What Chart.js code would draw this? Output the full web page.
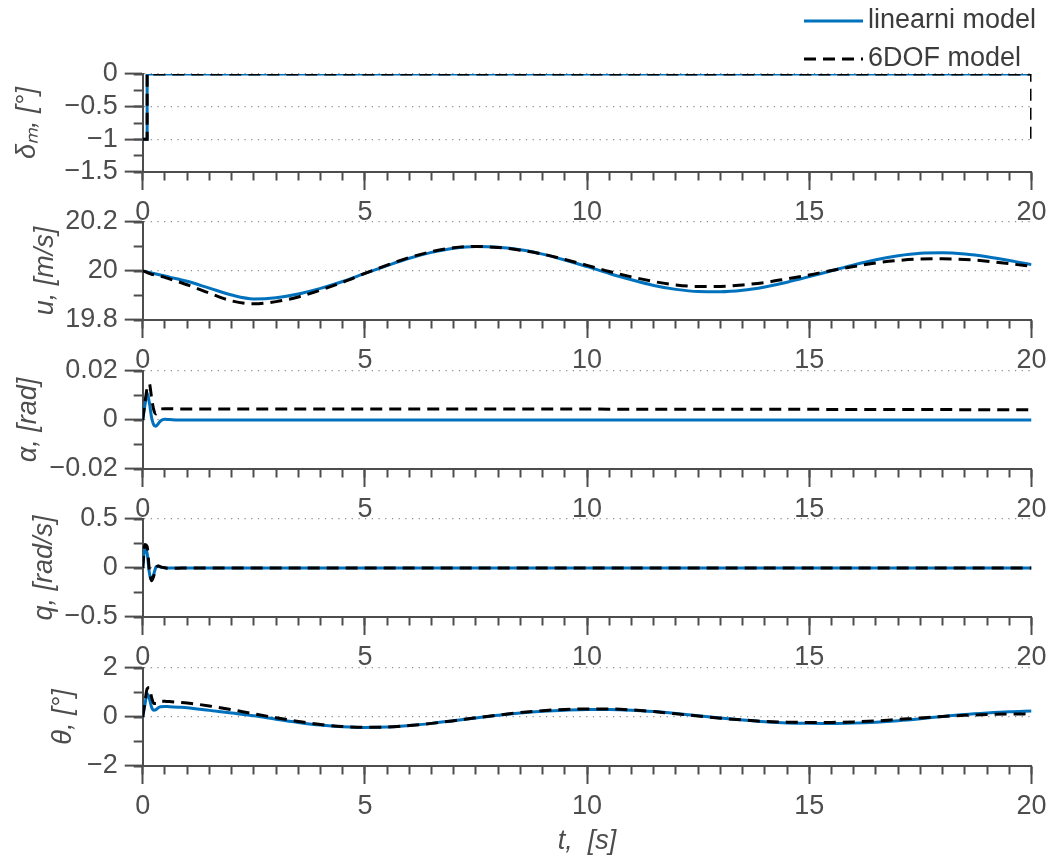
<!DOCTYPE html>
<html lang="en">
<head>
  <meta charset="utf-8">
  <title>Odziv modela</title>
  <style>
    body { margin: 0; background: #fff; }
    #wrap { position: relative; width: 1054px; height: 856px; overflow: hidden; }
    #wrap canvas { position: absolute; left: 0; }
  </style>
</head>

<body>
  <div id="wrap">
    <canvas id="c1"></canvas>
    <canvas id="c2"></canvas>
    <canvas id="c3"></canvas>
    <canvas id="c4"></canvas>
    <canvas id="c5"></canvas>
  </div>

  <script src="https://cdn.jsdelivr.net/npm/chart.js@4.4.0/dist/chart.umd.min.js"></script>
  <script>
    // time axis [s]
    var time = [0, 0.05, 0.1, 0.15, 0.2, 0.25, 0.3, 0.35, 0.4, 0.5, 0.6, 0.8, 1,
      1.5, 2, 2.5, 3, 3.5, 4, 4.5, 5, 5.5, 6, 6.5, 7, 7.5, 8, 8.5, 9, 9.5, 10,
      10.5, 11, 11.5, 12, 12.5, 13, 13.5, 14, 14.5, 15, 15.5, 16, 16.5, 17, 17.5, 18, 18.5, 19, 19.5, 20];

    // elevator step
    var deltaTimeLin = [0, 0.1, 0.1, 20];
    var deltaLin = [-1, -1, 0, 0];
    var deltaTimeDof = [0, 0.1, 0.1, 20, 20];
    var deltaDof = [-1, -1, 0, 0, -1];

    var uLin = [20.000, 19.998, 19.996, 19.994, 19.992, 19.990, 19.988, 19.986, 19.984, 19.980, 19.975, 19.967, 19.958,
      19.930, 19.902, 19.886, 19.891, 19.906, 19.929, 19.957, 19.990, 20.022, 20.052, 20.076, 20.093, 20.100, 20.097, 20.087, 20.069, 20.045, 20.018,
      19.990, 19.964, 19.941, 19.925, 19.916, 19.915, 19.921, 19.935, 19.954, 19.977, 20.001, 20.025, 20.046, 20.062, 20.072, 20.074, 20.069, 20.058, 20.043, 20.026];
    var uDof = [20.000, 19.998, 19.994, 19.990, 19.987, 19.985, 19.983, 19.981, 19.979, 19.974, 19.968, 19.956, 19.944,
      19.910, 19.878, 19.866, 19.875, 19.894, 19.922, 19.954, 19.990, 20.024, 20.055, 20.079, 20.095, 20.100, 20.096, 20.085, 20.069, 20.047, 20.023,
      19.998, 19.976, 19.957, 19.943, 19.937, 19.937, 19.943, 19.953, 19.968, 19.984, 20.002, 20.018, 20.033, 20.043, 20.049, 20.050, 20.047, 20.040, 20.030, 20.019];

    var alphaLin = [0, 0.006, 0.011, 0.007, 0.001, -0.002, -0.0025, -0.0015, -0.0004, 0.0003, 0.0002, 0, 0,
      0, 0, 0, 0, 0, 0, 0, 0, 0, 0, 0, 0, 0, 0, 0, 0, 0, 0,
      0, 0, 0, 0, 0, 0, 0, 0, 0, 0, 0, 0, 0, 0, 0, 0, 0, 0, 0, 0];
    var alphaDof = [0, 0.007, 0.013, 0.0148, 0.009, 0.004, 0.0025, 0.0035, 0.0045, 0.0046, 0.0046, 0.0045, 0.0045,
      0.0045, 0.0045, 0.0045, 0.0045, 0.0045, 0.0045, 0.0045, 0.0045, 0.0045, 0.0045, 0.0045, 0.0045, 0.0045, 0.0045, 0.0045, 0.0045, 0.0045, 0.0045,
      0.0044, 0.0044, 0.0044, 0.0044, 0.0044, 0.0044, 0.0044, 0.0044, 0.0044, 0.0044, 0.0043, 0.0043, 0.0043, 0.0043, 0.0043, 0.0043, 0.0042, 0.0042, 0.0042, 0.0042];

    var qLin = [0, 0.2, 0.15, -0.05, -0.12, -0.06, 0.01, 0.02, 0.01, 0.002, 0, 0, 0,
      0, 0, 0, 0, 0, 0, 0, 0, 0, 0, 0, 0, 0, 0, 0, 0, 0, 0,
      0, 0, 0, 0, 0, 0, 0, 0, 0, 0, 0, 0, 0, 0, 0, 0, 0, 0, 0, 0];
    var qDof = [0, 0.24, 0.22, -0.02, -0.13, -0.08, 0, 0.02, 0.012, 0.002, -0.004, -0.002, 0,
      0, 0, 0, 0, 0, 0, 0, 0, 0, 0, 0, 0, 0, 0, 0, 0, 0, 0,
      0, 0, 0, 0, 0, 0, 0, 0, 0, 0, 0, 0, 0, 0, 0, 0, 0, 0, 0, 0];

    var thetaLin = [0, 0.5, 0.95, 0.75, 0.4, 0.28, 0.3, 0.38, 0.42, 0.43, 0.42, 0.40, 0.38,
      0.27, 0.16, 0.05, -0.09, -0.22, -0.33, -0.40, -0.43, -0.41, -0.35, -0.26, -0.15, -0.04, 0.07, 0.16, 0.23, 0.28, 0.31,
      0.31, 0.28, 0.22, 0.14, 0.05, -0.04, -0.12, -0.19, -0.24, -0.26, -0.27, -0.25, -0.21, -0.15, -0.07, 0.02, 0.10, 0.16, 0.21, 0.24];
    var thetaDof = [0, 0.6, 1.15, 1.2, 0.8, 0.55, 0.55, 0.62, 0.65, 0.64, 0.63, 0.60, 0.57,
      0.45, 0.30, 0.13, -0.03, -0.18, -0.31, -0.39, -0.42, -0.41, -0.35, -0.26, -0.15, -0.03, 0.08, 0.18, 0.26, 0.31, 0.33,
      0.33, 0.29, 0.22, 0.13, 0.04, -0.05, -0.12, -0.18, -0.21, -0.22, -0.22, -0.20, -0.16, -0.10, -0.04, 0.02, 0.07, 0.10, 0.12, 0.13];

    var seriesNames = ['linearni model', '6DOF model'];
    var yLabels = ['\u03b4\u2098, [\u00b0]', 'u, [m/s]', '\u03b1, [rad]', 'q, [rad/s]', '\u03b8, [\u00b0]'];
    var xLabel = 't,  [s]';

    var fontFamily = "'Liberation Sans', Arial, sans-serif";
    var textColor = '#4d4d4d';
    var axisColor = '#4d4d4d';
    var blue = '#0072bd';
    var plotLeft = 142.7, plotRight = 1031.5, plotH = 98.2;

    Chart.defaults.font.family = fontFamily;
    Chart.defaults.font.size = 27;
    Chart.defaults.color = textColor;
    Chart.defaults.animation = false;

    function pts(xs, ys) {
      return xs.map(function(x, i) { return {x: x, y: ys[i]}; });
    }

    function fmt(v) {
      return String(Math.round(v * 1000) / 1000).replace('-', '\u2212');
    }

    // legend drawn in the top right corner, stacked like the original
    var cornerLegend = {
      id: 'cornerLegend',
      afterDraw: function(chart) {
        var ctx = chart.ctx;
        ctx.save();
        ctx.font = '27px ' + fontFamily;
        ctx.textBaseline = 'middle';
        chart.data.datasets.forEach(function(ds, i) {
          var y = 21 + i * 38;
          ctx.strokeStyle = ds.borderColor;
          ctx.lineWidth = ds.borderWidth;
          ctx.setLineDash(ds.borderDash || []);
          ctx.beginPath();
          ctx.moveTo(804, y);
          ctx.lineTo(863, y);
          ctx.stroke();
          ctx.setLineDash([]);
          ctx.fillStyle = '#3c3c3c';
          ctx.fillText(ds.label, 868, y);
        });
        ctx.restore();
      }
    };

    function makePanel(id, cfg) {
      var canvas = document.getElementById(id);
      canvas.width = 1054;
      canvas.height = Math.round(cfg.padTop + plotH + cfg.xH);
      canvas.style.top = (cfg.top - cfg.padTop) + 'px';

      return new Chart(canvas, {
        type: 'line',
        data: {
          datasets: [{
            label: seriesNames[0],
            data: pts(cfg.tLin, cfg.lin),
            borderColor: blue,
            borderWidth: 3,
            order: 1,
            cubicInterpolationMode: cfg.stepLike ? 'default' : 'monotone'
          }, {
            label: seriesNames[1],
            data: pts(cfg.tDof, cfg.dof),
            borderColor: '#000000',
            borderWidth: 3,
            borderDash: [12, 7],
            order: 0,
            cubicInterpolationMode: cfg.stepLike ? 'default' : 'monotone'
          }]
        },
        options: {
          responsive: false,
          layout: { padding: { top: cfg.padTop, right: 1054 - plotRight, left: 0, bottom: 0 } },
          elements: { point: { radius: 0, hoverRadius: 0 }, line: { tension: 0, borderCapStyle: 'butt' } },
          plugins: { legend: { display: false }, tooltip: { enabled: false } },
          events: [],
          scales: {
            x: {
              type: 'linear', axis: 'x', position: 'bottom', weight: 1,
              min: 0, max: 20,
              afterFit: function(s) { s.height = cfg.xH; },
              ticks: { stepSize: 5, padding: 6, autoSkip: false, maxRotation: 0, callback: fmt },
              grid: { drawOnChartArea: false, tickLength: 18, tickWidth: 2, tickColor: axisColor },
              border: { color: axisColor, width: 2 },
              title: { display: !!cfg.xTitle, text: xLabel, font: { style: 'italic', lineHeight: 1.1 }, padding: { top: 0, bottom: 0 } }
            },
            xMinor: {
              type: 'linear', axis: 'x', position: 'bottom', weight: 0,
              min: 0, max: 20,
              afterFit: function(s) { s.height = 0; },
              ticks: { display: false, stepSize: 0.5, autoSkip: false },
              grid: { drawOnChartArea: false, tickLength: 8.5, tickWidth: 2, tickColor: axisColor },
              border: { display: false }
            },
            y: {
              type: 'linear', axis: 'y', position: 'left', weight: 1,
              min: cfg.min, max: cfg.max,
              afterFit: function(s) { s.width = plotLeft; },
              ticks: { stepSize: cfg.step, padding: 7, autoSkip: false, callback: fmt },
              grid: { color: '#8c8c8c', lineWidth: 1.2, tickLength: 18, tickWidth: 2, tickColor: axisColor },
              border: { color: axisColor, width: 2, dash: [1.2, 5.5] },
              title: { display: true, text: cfg.yTitle, font: { style: 'italic' }, padding: { top: cfg.titlePad, bottom: 0 } }
            },
            yMinor: {
              type: 'linear', axis: 'y', position: 'left', weight: 0,
              min: cfg.min, max: cfg.max,
              afterFit: function(s) { s.width = 0; },
              ticks: { display: false, stepSize: cfg.step / 2, autoSkip: false },
              grid: { drawOnChartArea: false, tickLength: 9, tickWidth: 2, tickColor: axisColor },
              border: { display: false }
            }
          }
        },
        plugins: cfg.legend ? [cornerLegend] : []
      });
    }

    var gap = 148.45;

    makePanel('c1', { top: 74, padTop: 74, xH: 60, min: -1.5, max: 0, step: 0.5, yTitle: yLabels[0], titlePad: 11,
      tLin: deltaTimeLin, lin: deltaLin, tDof: deltaTimeDof, dof: deltaDof, stepLike: true, legend: true });
    makePanel('c2', { top: 74 + gap, padTop: 40, xH: 60, min: 19.8, max: 20.2, step: 0.2, yTitle: yLabels[1], titlePad: 29,
      tLin: time, lin: uLin, tDof: time, dof: uDof });
    makePanel('c3', { top: 74 + 2 * gap, padTop: 40, xH: 60, min: -0.02, max: 0.02, step: 0.02, yTitle: yLabels[2], titlePad: 12,
      tLin: time, lin: alphaLin, tDof: time, dof: alphaDof });
    makePanel('c4', { top: 74 + 3 * gap, padTop: 40, xH: 60, min: -0.5, max: 0.5, step: 0.5, yTitle: yLabels[3], titlePad: 28,
      tLin: time, lin: qLin, tDof: time, dof: qDof });
    makePanel('c5', { top: 74 + 4 * gap, padTop: 40, xH: 856 - (74 + 4 * gap + plotH), min: -2, max: 2, step: 2, yTitle: yLabels[4], titlePad: 47,
      tLin: time, lin: thetaLin, tDof: time, dof: thetaDof, xTitle: true });
  </script>
</body>
</html>
